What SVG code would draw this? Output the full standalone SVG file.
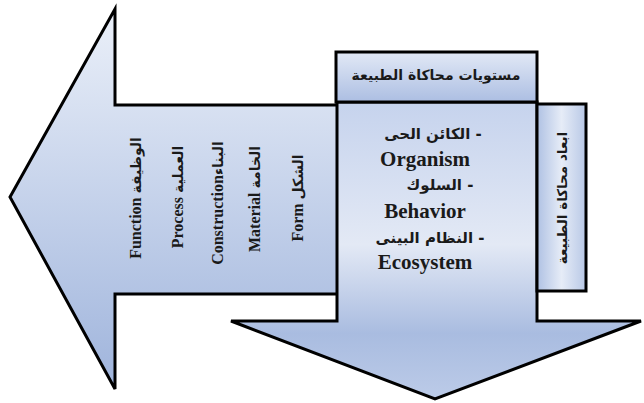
<svg xmlns="http://www.w3.org/2000/svg" width="644" height="403" viewBox="0 0 644 403">
<style>
.shape{stroke:#000;stroke-width:3;stroke-linejoin:miter}
.t{font-family:"Liberation Serif","DejaVu Sans",serif;font-weight:bold;fill:#1a1a1a}
.ar{font-family:"DejaVu Sans","Liberation Sans",sans-serif;font-weight:bold;fill:#1a1a1a}
</style>
<defs>
<linearGradient id="gLeft" x1="0" y1="0" x2="0" y2="1">
<stop offset="0" stop-color="#ebf0f9"/>
<stop offset="1" stop-color="#9fb4dc"/>
</linearGradient>
<linearGradient id="gDown" x1="0" y1="0" x2="0" y2="1">
<stop offset="0" stop-color="#c6d3ed"/>
<stop offset="0.48" stop-color="#e3e9f5"/>
<stop offset="0.78" stop-color="#a9bce0"/>
<stop offset="1" stop-color="#bccbe8"/>
</linearGradient>
<linearGradient id="gHead" x1="0" y1="0" x2="0" y2="1">
<stop offset="0" stop-color="#e2e9f6"/>
<stop offset="1" stop-color="#acbee2"/>
</linearGradient>
<linearGradient id="gSide" x1="0" y1="0" x2="1" y2="0">
<stop offset="0" stop-color="#afc1e3"/>
<stop offset="0.5" stop-color="#e6ecf7"/>
<stop offset="1" stop-color="#b8c8e6"/>
</linearGradient>
</defs>

<g id="left-arrow">
<polygon class="shape" fill="url(#gLeft)" points="10,197 115,9 115,105 340,105 340,294 115,294 115,389"/>
<text class="t" font-size="16" text-anchor="middle" transform="translate(141,198) rotate(-90)">Function <tspan font-size="14">الوظيفة</tspan></text>
<text class="t" font-size="16" text-anchor="middle" transform="translate(183,197) rotate(-90)">Process <tspan font-size="14">العملية</tspan></text>
<text class="t" font-size="16" text-anchor="middle" transform="translate(223,203) rotate(-90)">Construction<tspan font-size="14">البناء</tspan></text>
<text class="t" font-size="16" text-anchor="middle" transform="translate(260,199) rotate(-90)">Material <tspan font-size="14">الخامة</tspan></text>
<text class="t" font-size="16" text-anchor="middle" transform="translate(303,198) rotate(-90)">Form <tspan font-size="14">الشكل</tspan></text>
</g>

<g id="down-arrow">
<polygon class="shape" fill="url(#gDown)" points="337,102 537,102 537,321 641,321 435,399 231,321 337,321"/>
<text class="ar" font-size="15" text-anchor="middle" x="433" y="139" direction="rtl">- الكائن الحى</text>
<text class="t" font-size="21" text-anchor="middle" x="425" y="166">Organism</text>
<text class="ar" font-size="15" text-anchor="middle" x="440" y="190" direction="rtl">- السلوك</text>
<text class="t" font-size="21" text-anchor="middle" x="425" y="218">Behavior</text>
<text class="ar" font-size="15" text-anchor="middle" x="430" y="243" direction="rtl">- النظام البينى</text>
<text class="t" font-size="21" text-anchor="middle" x="425" y="269">Ecosystem</text>
</g>

<g id="header">
<rect class="shape" fill="url(#gHead)" x="336" y="52" width="201" height="50"/>
<text class="ar" font-size="14" text-anchor="middle" x="436" y="80" direction="rtl">مستويات محاكاة الطبيعة</text>
</g>

<g id="side-box">
<rect class="shape" fill="url(#gSide)" x="537" y="104" width="49" height="187"/>
<text class="ar" font-size="13.5" text-anchor="middle" direction="rtl" transform="translate(567,198) rotate(-90)">ابعاد محاكاة الطبيعة</text>
</g>
</svg>
